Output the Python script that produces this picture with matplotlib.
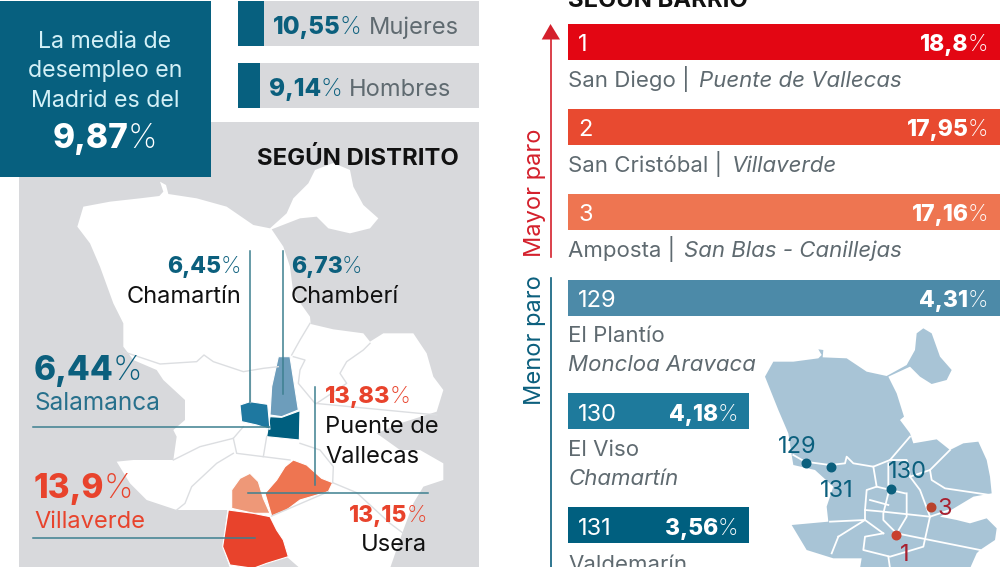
import matplotlib
matplotlib.use("Agg")
import matplotlib.pyplot as plt
from matplotlib.patches import Polygon, Rectangle

plt.rcParams['font.family'] = ['Inter', 'DejaVu Sans']

# headline numbers
media_madrid = 9.87
sexo_labels = ["Mujeres", "Hombres"]
sexo_values = [10.55, 9.14]

# distritos
distrito_labels = ["Chamartín", "Chamberí", "Salamanca", "Puente de\nVallecas", "Villaverde", "Usera"]
distrito_values = [6.45, 6.73, 6.44, 13.83, 13.9, 13.15]

# barrios
barrio_rank = [1, 2, 3, 129, 130, 131]
barrio_values = [18.8, 17.95, 17.16, 4.31, 4.18, 3.56]
barrio_names = ["San Diego", "San Cristóbal", "Amposta", "El Plantío", "El Viso", "Valdemarín"]
barrio_distritos = ["Puente de Vallecas", "Villaverde", "San Blas - Canillejas",
                    "Moncloa Aravaca", "Chamartín"]
barrio_colors = ["#e30613", "#e84a30", "#ee7551", "#4c8aa8", "#1e7a9c", "#005f7f"]

TEAL = "#0b5f7d"
RED = "#e8432c"
GRAY = "#5f6a70"
PANEL = "#d8d9dc"
LINE = "#3d8090"

# map outlines (crop coordinates)
big_outline = [(232,170),(250,110),(330,95),(420,85),(478,78),(490,65),(480,35),(498,45),(505,72),(590,85),
    (680,110),(760,165),(810,175),(860,130),(880,85),(925,40),(945,0),(1000,-21),(1050,0),(1060,50),
    (1090,105),(1135,145),(1110,175),(1050,190),(985,175),(950,140),(900,145),(815,178),(850,230),
    (870,290),(880,370),(930,440),(932,462),(1000,478),(1090,490),(1110,515),(1150,490),(1240,490),
    (1280,550),(1300,620),(1330,660),(1310,725),(1200,760),(1130,790),(1200,840),(1260,840),(1330,880),
    (1330,930),(1270,950),(1240,1000),(1210,1080),(1170,1195),(900,1195),(860,1160),(690,1195),(668,1130),
    (682,1020),(530,1020),(440,990),(390,940),(350,875),(400,870),(520,870),(530,800),(520,780),(555,750),
    (555,690),(490,630),(470,600),(400,570),(370,530),(370,460),(340,400),(300,290),(270,220)]
big_lines = [[(370,545),(480,582),(590,575),(612,555),(640,575),(730,605),(790,595),(835,590)],
    [(875,555),(900,510),(930,460)],
    [(880,560),(915,570),(900,600),(895,640),(945,700),(1310,735)],
    [(1110,520),(1090,540),(1040,575),(1020,610),(1040,640),(950,700)],
    [(750,605),(750,695)],
    [(520,870),(600,830),(700,805),(730,770)],
    [(700,805),(710,850),(790,860),(800,800)],
    [(700,850),(650,880),(575,950),(555,1000),(530,1020)],
    [(790,860),(870,870)],
    [(900,820),(960,840),(1000,890),(998,938)],
    [(998,938),(1070,968),(1170,1060),(1210,1090)],
    [(815,1038),(985,965)]]
shape_chamberi = [(835,560),(870,560),(895,720),(845,740),(810,735),(815,650)]
shape_centro = [(810,740),(845,742),(900,722),(898,810),(800,800)]
shape_salamanca = [(720,705),(750,695),(803,703),(810,778),(770,765),(725,755)]
shape_usera = [(880,870),(920,885),(965,925),(998,938),(985,965),(900,990),(860,1020),(815,1038),(795,970),(830,930),(855,890)]
shape_carabanchel = [(750,910),(775,935),(790,985),(810,1030),(760,1030),(695,1015),(695,960),(720,925)]
shape_villaverde = [(685,1020),(760,1030),(810,1040),(830,1080),(850,1110),(865,1160),(800,1180),(760,1195),(690,1185),(668,1130)]

small_outline = [(45,170),(70,125),(130,125),(205,115),(215,105),(205,88),(220,90),(218,112),(290,115),
    (350,155),(410,168),(470,135),(495,90),(500,40),(520,25),(545,40),(570,110),(605,150),(590,180),
    (545,192),(510,170),(480,140),(415,170),(440,220),(462,290),(450,300),(480,340),(490,370),(560,358),
    (600,390),(640,370),(685,365),(710,420),(720,470),(725,520),(670,530),(620,560),(570,590),(620,600),
    (660,610),(710,595),(740,625),(735,660),(690,690),(680,700),(660,745),(330,745),(335,715),(250,715),
    (170,690),(125,615),(235,605),(230,560),(250,500),(195,450),(130,435),(125,405),(115,340),(85,270)]
small_lines = [[(130,405),(165,425),(240,435),(285,430),(290,410),(310,430),(370,440),(420,420),(480,350)],
    [(370,440),(380,500),(350,510),(345,570),(345,600),(240,605)],
    [(420,420),(470,420),(480,470),(510,510),(540,590)],
    [(480,470),(540,450),(600,390)],
    [(540,450),(545,480),(585,505),(720,525)],
    [(415,430),(415,520),(400,580),(400,600),(440,640),(470,590),(470,520)],
    [(380,500),(465,520)],
    [(360,540),(415,555)],
    [(345,570),(400,575),(540,590),(520,680),(420,710),(340,690),(345,650),(400,640)],
    [(345,600),(400,640)],
    [(540,590),(600,570)],
    [(440,640),(640,680),(690,690)],
    [(265,650),(245,700)],
    [(265,650),(345,600)],
    [(415,710),(420,745)]]


def big_xy(p):
    return (p[0] / 3, 170 + p[1] / 3)


def small_xy(p):
    return (750 + p[0] / 3, 320 + p[1] / 3)


def pct(v):
    return str(v).replace(".", ",")


fig = plt.figure(figsize=(10, 5.67), dpi=100)
ax = fig.add_axes([0, 0, 1, 1])
ax.set_xlim(0, 1000)
ax.set_ylim(567, 0)
ax.axis("off")


def rich(x, y, first, second, size, color, second_color=None, ha="left", first_weight=800, second_weight="light"):
    """bold part then light part on one baseline, x is left or right edge"""
    if second_color is None:
        second_color = color
    r = fig.canvas.get_renderer()
    t1 = ax.text(x, y, first, fontsize=size, color=color, fontweight=first_weight, va="baseline", ha="left")
    t2 = ax.text(x, y, second, fontsize=size, color=second_color, fontweight=second_weight, va="baseline", ha="left")
    w1 = t1.get_window_extent(r).width - 1
    w2 = t2.get_window_extent(r).width
    if ha == "right":
        x0 = x - w1 - w2
    elif ha == "center":
        x0 = x - (w1 + w2) / 2
    else:
        x0 = x
    t1.set_x(x0)
    t2.set_x(x0 + w1)
    return x0 + w1 + w2


# left column
ax.add_patch(Rectangle((19, 122), 460, 446, color=PANEL, lw=0))
ax.add_patch(Rectangle((238, 1), 241, 45, color=PANEL, lw=0))
ax.add_patch(Rectangle((238, 63), 241, 45, color=PANEL, lw=0))
ax.barh([23.5, 85.5], [v * 2.46 for v in sexo_values], left=238, height=45, color="#07607f")
ax.add_patch(Rectangle((0, 1), 211, 176, color="#07607f", lw=0))

for s, yy in zip(["La media de", "desempleo en", "Madrid es del"], [48, 77, 107]):
    ax.text(105, yy, s, fontsize=16.7, color="#d3f0f7", ha="center", va="baseline", fontweight="normal")
rich(105, 148, pct(media_madrid), "%", 24, "white", ha="center")

end = rich(273, 34, pct(sexo_values[0]), "%", 17.5, TEAL)
ax.text(end + 7, 34, sexo_labels[0], fontsize=17, color=GRAY, va="baseline", fontweight="normal")
end = rich(269, 96, pct(sexo_values[1]), "%", 17.5, TEAL)
ax.text(end + 7, 96, sexo_labels[1], fontsize=17, color=GRAY, va="baseline", fontweight="normal")

# district map
ax.add_patch(Polygon([big_xy(p) for p in big_outline], closed=True, color="white", lw=0, clip_on=True))
for pl in big_lines:
    ax.plot(*zip(*[big_xy(p) for p in pl]), color="#dcdee1", lw=1)
for shp, col in [(shape_chamberi, "#6d9dbb"), (shape_centro, "#005f7f"), (shape_salamanca, "#1e78a0"),
                 (shape_usera, "#ee7551"), (shape_carabanchel, "#ee9878"), (shape_villaverde, "#e8432c")]:
    ax.add_patch(Polygon([big_xy(p) for p in shp], closed=True, facecolor=col, edgecolor="white", lw=0.8))

for pl in [[(750,243),(750,695)], [(848,243),(848,672)], [(100,770),(810,770)],
           [(945,650),(945,945)], [(745,970),(1285,970)], [(100,1105),(765,1105)]]:
    ax.plot(*zip(*[big_xy(p) for p in pl]), color=LINE, lw=1.1)

ax.text(257, 165, "SEGÚN DISTRITO", fontsize=17.2, fontweight="bold", color="#111111", va="baseline")

rich(241, 273, pct(distrito_values[0]), "%", 16.5, TEAL, ha="right")
ax.text(241, 303, distrito_labels[0], fontsize=17, color="#111111", ha="right", va="baseline", fontweight="normal")
rich(291, 273, pct(distrito_values[1]), "%", 16.5, TEAL)
ax.text(291, 303, distrito_labels[1], fontsize=17, color="#111111", va="baseline", fontweight="normal")
rich(34, 380, pct(distrito_values[2]), "%", 24, TEAL)
ax.text(34, 410, distrito_labels[2], fontsize=17.5, color="#27708c", va="baseline", fontweight="normal")
rich(325, 403, pct(distrito_values[3]), "%", 17, RED)
for s, yy in zip(distrito_labels[3].split("\n"), [433, 463]):
    ax.text(325, yy, s, fontsize=17, color="#111111", va="baseline", fontweight="normal")
rich(34, 498, pct(distrito_values[4]), "%", 24, RED)
ax.text(34, 528, distrito_labels[4], fontsize=17, color=RED, va="baseline", fontweight="normal")
rich(427, 522, pct(distrito_values[5]), "%", 16.5, RED, ha="right")
ax.text(427, 551, distrito_labels[5], fontsize=17, color="#111111", ha="right", va="baseline", fontweight="normal")

# right column
ax.text(568, 7, "SEGÚN BARRIO", fontsize=17.2, fontweight="bold", color="#111111", va="baseline")

ribbon_y = [42, 126.5, 211.5, 297.5, 411, 525]
ribbon_w = [432, 432, 432, 432, 181, 181]
ax.barh(ribbon_y, ribbon_w, left=568, height=36, color=barrio_colors)
rank_base = [51, 136, 221, 307, 421, 535]
pct_right = [988, 988, 988, 988, 738, 738]
for rk, v, yy, xr in zip(barrio_rank, barrio_values, rank_base, pct_right):
    ax.text(578, yy, str(rk), fontsize=17, color="white", va="baseline", fontweight="normal")
    rich(xr, yy, pct(v), "%", 16.5, "white", ha="right")

for i, yy in enumerate([87, 172, 257]):
    t = ax.text(568, yy, barrio_names[i] + " | ", fontsize=16, color=GRAY, va="baseline", fontweight="normal")
    w = t.get_window_extent(fig.canvas.get_renderer()).width
    ax.text(568 + w + 3, yy, barrio_distritos[i], fontsize=16, color=GRAY, va="baseline",
            fontweight="normal", style="italic")
for i, yy in zip([3, 4], [342, 456]):
    ax.text(568, yy, barrio_names[i], fontsize=16, color=GRAY, va="baseline", fontweight="normal")
    ax.text(568, yy + 29, barrio_distritos[i], fontsize=16, color=GRAY, va="baseline", fontweight="normal",
            style="italic")
ax.text(568, 571, barrio_names[5], fontsize=16, color=GRAY, va="baseline", fontweight="normal", clip_on=True)

ax.plot([550.5, 550.5], [36, 257], color="#d4202c", lw=1.2)
ax.add_patch(Polygon([(541.7, 39.5), (560, 39.5), (550.5, 24)], closed=True, color="#d4202c", lw=0))
ax.plot([550.5, 550.5], [278, 567], color=TEAL, lw=1.2)
ax.text(541, 257, "Mayor paro", fontsize=17, color="#d4202c", rotation=90, rotation_mode="anchor",
        ha="left", va="baseline", fontweight="normal")
ax.text(541, 405, "Menor paro", fontsize=17, color=TEAL, rotation=90, rotation_mode="anchor",
        ha="left", va="baseline", fontweight="normal")

# small map
ax.add_patch(Polygon([small_xy(p) for p in small_outline], closed=True, color="#a8c4d6", lw=0))
for pl in small_lines:
    ax.plot(*zip(*[small_xy(p) for p in pl]), color="white", lw=1.3)
for p, col in [((168,430), TEAL), ((242,441), TEAL), ((423,507), TEAL), ((542,562), "#b8432d"), ((438,644), "#c8402d")]:
    x, y = small_xy(p)
    ax.scatter([x], [y], s=38, color=col, zorder=5)
for s, p, col in [("129", (143,400), TEAL), ("131", (260,530), TEAL), ("130", (472,475), TEAL),
                  ("3", (585,585), "#a8202f"), ("1", (465,722), "#a8202f")]:
    x, y = small_xy(p)
    ax.text(x, y, s, fontsize=17, color=col, ha="center", va="baseline", zorder=6)

fig.savefig("out.png", dpi=100)
